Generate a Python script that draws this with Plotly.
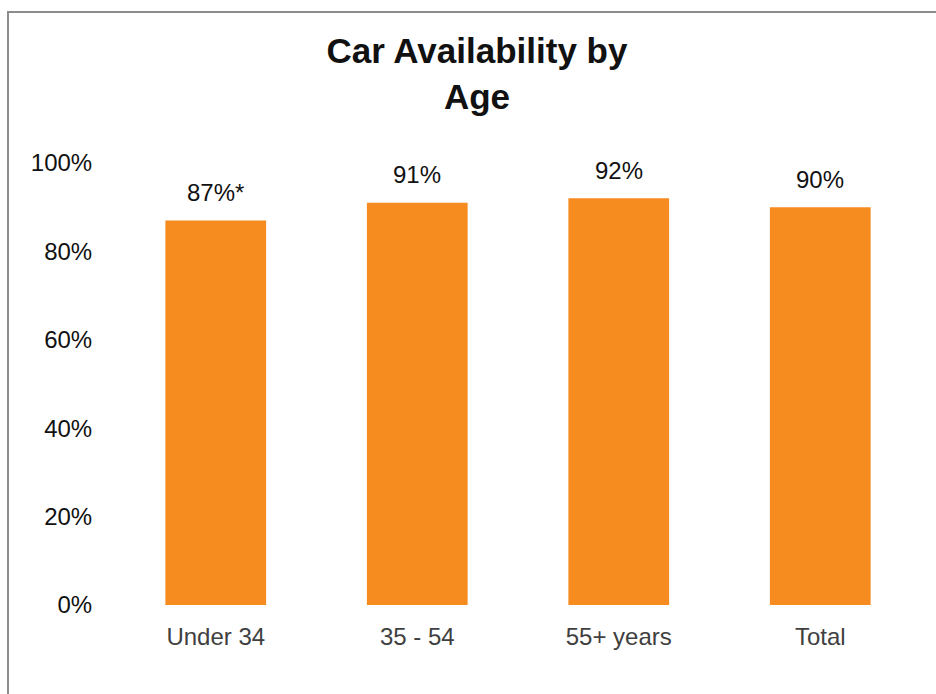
import plotly.graph_objects as go

categories = ["Under 34", "35 - 54", "55+ years", "Total"]
values = [87, 91, 92, 90]
value_labels = ["87%*", "91%", "92%", "90%"]
y_ticks = [0, 20, 40, 60, 80, 100]
y_tick_labels = ["0%", "20%", "40%", "60%", "80%", "100%"]

W, H = 936, 694
L, R, T, B = 115, 15, 163, 89
pw, ph = W - L - R, H - T - B

def px_x(x):
    return (x - L) / pw

def px_y(y):
    return (H - B - y) / ph

fig = go.Figure(go.Bar(
    x=categories, y=values,
    marker=dict(color="#F68B20", line=dict(width=0)),
    cliponaxis=False, width=0.5,
))

for c, v, t in zip(categories, values, value_labels):
    fig.add_annotation(x=c, y=v, text=t, showarrow=False, yanchor="middle",
                       yshift=28, font=dict(size=24, color="#111111"))

fig.update_layout(
    width=W, height=H,
    margin=dict(l=L, r=R, t=T, b=B, pad=0),
    paper_bgcolor="white", plot_bgcolor="white",
    showlegend=False,
    font=dict(family="Liberation Sans, Arial", size=24, color="#111111"),
    title=dict(text="<b>Car Availability by<br>Age</b>", x=px_x(477), xref="paper",
               xanchor="center", y=1 - 63 / H, yanchor="middle",
               font=dict(size=35, color="#111111", family="Liberation Sans, Arial")),
    xaxis=dict(showgrid=False, showline=False, zeroline=False,
               ticks="outside", ticklen=10, tickcolor="rgba(0,0,0,0)",
               tickfont=dict(size=24, color="#404040")),
    yaxis=dict(range=[0, 100], tickvals=y_ticks, ticktext=y_tick_labels,
               showgrid=False, showline=False, zeroline=False,
               ticks="outside", ticklen=17, tickcolor="rgba(0,0,0,0)",
               tickfont=dict(size=24, color="#111111")),
    shapes=[
        dict(type="line", xref="paper", yref="paper",
             x0=px_x(8), x1=px_x(8), y0=px_y(11), y1=px_y(700),
             line=dict(color="#8c8c8c", width=2)),
        dict(type="line", xref="paper", yref="paper",
             x0=px_x(7), x1=px_x(940), y0=px_y(12), y1=px_y(12),
             line=dict(color="#8c8c8c", width=2)),
    ],
)

fig.write_html("out.html")
